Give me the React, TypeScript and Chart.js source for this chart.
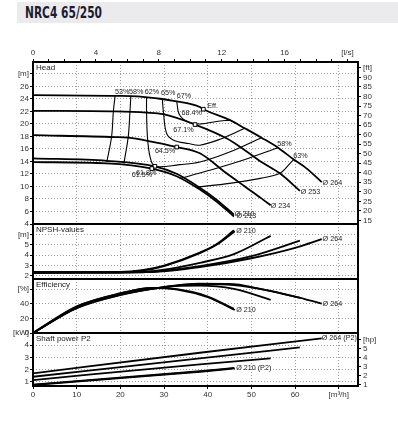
import React, { useEffect, useRef } from "react";
import { Chart, registerables } from "chart.js";
Chart.register(...registerables);

type P = [number, number];
type Lbl = { x: number; y: number; t: string; align?: CanvasTextAlign };

const FONT = "'Liberation Sans', Arial, sans-serif";
const GRID = "#9c9c9c";

// flow axis (m3/h) and l/s
const FLOW_MAX = 74.4;
const LS_PER_M3H = 1 / 3.6;

// Head curves (x: m3/h, y: m)
const head264: P[] = [[0, 24.6], [18.8, 24.5], [24, 24.4], [32.9, 23.6], [38.2, 22.7], [39.0, 22.35], [45.1, 20.6], [48.5, 19.3], [52.3, 17.8], [56.1, 16.2], [59.7, 14.3], [62.6, 12.9], [66.1, 10.7]];
const head253: P[] = [[0, 22.1], [18.8, 22.0], [26.0, 21.8], [29.8, 21.55], [37.1, 19.9], [44.3, 17.7], [48.5, 15.8], [52.3, 13.9], [56.5, 12.1], [61.1, 9.3]];
const head234: P[] = [[0, 18.2], [18.8, 17.9], [21.7, 17.8], [32.9, 16.3], [38.2, 15.3], [44.3, 12.1], [48.5, 10.0], [52.3, 8.1], [54.4, 7.0]];
const head213: P[] = [[0, 14.5], [16.9, 14.1], [27.9, 13.23], [33, 12.0], [38.2, 9.8], [42, 7.9], [46, 5.5]];
const head210: P[] = [[0, 13.9], [16.9, 13.7], [27.2, 12.86], [33, 11.6], [38.2, 9.5], [42, 7.6], [46, 5.2]];

// iso-efficiency lines
const iso53: P[] = [[18.8, 24.48], [18.4, 22.03], [18.0, 18.03], [16.9, 13.92]];
const iso58: P[] = [[22.4, 24.43], [22.2, 22.03], [21.8, 17.92], [20.8, 13.66]];
const iso62: P[] = [[26.0, 24.32], [26.0, 21.82], [26.2, 17.92], [26.8, 14.72], [27.9, 13.23], [33.6, 13.5], [38.2, 13.9], [45, 15.5], [52.3, 17.8]];
const iso65: P[] = [[29.6, 24.06], [29.9, 21.55], [30.6, 18.46], [32.2, 17.4], [35.6, 16.86], [38.2, 16.6], [43, 17.6], [48.5, 19.3]];
const iso67: P[] = [[32.9, 23.6], [33.5, 21.5], [35.5, 20.3], [38.5, 20.0], [42, 20.4], [45.1, 20.6]];
const isoR58: P[] = [[33.6, 11.26], [40, 12.5], [48, 14.2], [56.1, 16.2]];
const isoR63: P[] = [[37.5, 9.9], [45, 10.5], [52, 11.3], [56.5, 12.1], [58.8, 13.66], [59.7, 14.3]];

const bepPoints: P[] = [[39.0, 22.35], [37.1, 19.9], [32.9, 16.3], [27.9, 13.23], [27.2, 12.86]];

const headLabels: Lbl[] = [
  { x: 18.8, y: 25.1, t: "53%" }, { x: 22.0, y: 25.1, t: "58%" }, { x: 25.6, y: 25.1, t: "62%" },
  { x: 29.3, y: 25.0, t: "65%" }, { x: 32.9, y: 24.4, t: "67%" }, { x: 39.9, y: 22.9, t: "Eff." },
  { x: 34.0, y: 21.7, t: "68.4%" }, { x: 32.1, y: 19.1, t: "67.1%" }, { x: 27.9, y: 15.6, t: "64.5%" },
  { x: 23.6, y: 12.2, t: "61.8%" }, { x: 22.6, y: 11.8, t: "61.5%" },
  { x: 55.9, y: 16.75, t: "58%" }, { x: 59.6, y: 14.9, t: "63%" },
  { x: 66.3, y: 10.56, t: "Ø 264" }, { x: 61.3, y: 9.1, t: "Ø 253" }, { x: 54.4, y: 6.9, t: "Ø 234" },
  { x: 46.2, y: 5.55, t: "Ø 210" }, { x: 46.6, y: 5.3, t: "Ø 213" },
];

// NPSH curves
const npsh264: P[] = [[0, 2.3], [28, 2.4], [38.2, 2.85], [50, 3.7], [60, 4.7], [66.1, 5.54]];
const npsh253: P[] = [[0, 2.3], [25, 2.35], [38.2, 2.95], [50, 3.9], [61.1, 5.4]];
const npsh234: P[] = [[0, 2.35], [22, 2.35], [30, 2.6], [38.2, 3.26], [46, 4.1], [54.4, 5.86]];
const npsh213: P[] = [[0, 2.38], [20, 2.38], [25, 2.55], [30, 3.0], [38.2, 4.25], [42, 5.05], [46, 6.4]];
const npsh210: P[] = [[0, 2.35], [20, 2.35], [25, 2.5], [30, 2.95], [38.2, 4.2], [42, 5.0], [46.2, 6.3]];
const npshLabels: Lbl[] = [{ x: 46.5, y: 6.36, t: "Ø 210" }, { x: 66.3, y: 5.54, t: "Ø 264" }];

// Efficiency curves
const eta264: P[] = [[0, 0], [10, 34], [20, 52], [30, 63], [38, 67.6], [46, 67], [50, 63], [60, 50], [66.1, 40.4]];
const eta253: P[] = [[0, 0], [10, 34.5], [20, 52.5], [30, 63], [38, 67], [46, 65.5], [54, 58], [61.1, 48]];
const eta234: P[] = [[0, 0], [10, 35], [20, 53], [30, 63], [38, 65], [46, 60.5], [54.4, 45.5]];
const eta213: P[] = [[0, 0], [10, 36], [20, 54], [27, 61.8], [33, 60], [40, 50], [46, 33]];
const eta210: P[] = [[0, 0], [10, 36.5], [20, 54.5], [27, 61.5], [33, 59.5], [40, 49], [46.2, 31.5]];
const etaLabels: Lbl[] = [{ x: 66.3, y: 40, t: "Ø 264" }, { x: 46.5, y: 31.7, t: "Ø 210" }];

// Shaft power P2 (kW)
const pow264: P[] = [[0, 1.69], [38.2, 3.38], [66.1, 4.56]];
const pow253: P[] = [[0, 1.41], [38.2, 2.92], [61.1, 3.82]];
const pow234: P[] = [[0, 1.14], [38.2, 2.43], [54.4, 2.92]];
const pow213: P[] = [[0, 0.77], [38.2, 1.86], [46, 2.13]];
const pow210: P[] = [[0, 0.73], [38.2, 1.82], [46.2, 2.1]];
const powLabels: Lbl[] = [{ x: 66.1, y: 4.56, t: "Ø 264 (P2)" }, { x: 46.5, y: 2.1, t: "Ø 210 (P2)" }];

const unitCb = (unitAt: number, unit: string, hide: number[] = [], every = 0) => (v: any) => {
  const n = Number(v);
  if (Math.abs(n - unitAt) < 1e-6) return unit;
  if (hide.some((h) => Math.abs(h - n) < 1e-6)) return "";
  if (every && Math.abs(n / every - Math.round(n / every)) > 1e-6) return "";
  return String(Math.round(n * 100) / 100);
};

const line = (pts: P[], w = 1.8, mono = true) => ({
  data: pts.map(([x, y]) => ({ x, y })),
  borderColor: "#000",
  borderWidth: w,
  pointRadius: 0,
  fill: false,
  cubicInterpolationMode: mono ? "monotone" : "default",
  tension: mono ? 0 : 0.35,
  yAxisID: "y",
});

const markers = (pts: P[]) => ({
  data: pts.map(([x, y]) => ({ x, y })),
  showLine: false,
  pointStyle: "rect",
  pointRadius: 2.6,
  pointBackgroundColor: "#fff",
  pointBorderColor: "#000",
  pointBorderWidth: 1,
  yAxisID: "y",
});

const framePlugin = (title: string, labels: Lbl[]) => ({
  id: "frameText",
  afterDatasetsDraw(chart: any) {
    const { ctx, chartArea: a, scales } = chart;
    ctx.save();
    ctx.lineWidth = 2;
    ctx.strokeStyle = "#000";
    ctx.strokeRect(a.left, a.top, a.right - a.left, a.bottom - a.top);
    ctx.font = `8px ${FONT}`;
    ctx.fillStyle = "#222";
    ctx.textBaseline = "top";
    ctx.textAlign = "left";
    ctx.fillText(title, a.left + 3, a.top + 2);
    ctx.font = `7.2px ${FONT}`;
    ctx.textBaseline = "middle";
    for (const l of labels) {
      ctx.textAlign = l.align ?? "left";
      ctx.fillText(l.t, scales.x.getPixelForValue(l.x), scales.y.getPixelForValue(l.y));
    }
    ctx.restore();
  },
});

const noRot = { maxRotation: 0, minRotation: 0 };

const xGridScale = (h: number, showTicks = false) => ({
  type: "linear",
  position: "bottom",
  min: 0,
  max: FLOW_MAX,
  ticks: {
    ...noRot,
    display: showTicks,
    stepSize: 10,
    autoSkip: false,
    includeBounds: false,
    padding: 1,
    callback: unitCb(70, "[m³/h]"),
  },
  grid: { color: GRID, drawTicks: showTicks, tickLength: 3, tickColor: "#000", tickBorderDash: [] },
  border: { display: false, dash: [1, 2] },
  afterFit: (s: any) => { s.height = h; },
});

const yLeft = (min: number, max: number, step: number, unitAt: number, unit: string, hide: number[] = []) => ({
  type: "linear",
  position: "left",
  min,
  max,
  ticks: { stepSize: step, autoSkip: false, includeBounds: false, padding: 1, callback: unitCb(unitAt, unit, hide) },
  grid: { color: GRID, drawTicks: true, tickLength: 3, tickColor: "#000", tickBorderDash: [] },
  border: { display: false, dash: [1, 2] },
  afterFit: (s: any) => { s.width = 33; },
});

const yRight = (min: number, max: number, step: number, unitAt: number, unit: string) => ({
  type: "linear",
  position: "right",
  min,
  max,
  ticks: { stepSize: step, autoSkip: false, includeBounds: false, padding: 2, callback: unitCb(unitAt, unit) },
  grid: { drawOnChartArea: false, drawTicks: true, tickLength: 3, tickColor: "#000" },
  border: { display: false },
  afterFit: (s: any) => { s.width = 40; },
});

function usePanel(ref: React.RefObject<HTMLCanvasElement | null>, cfg: () => any) {
  useEffect(() => {
    if (!ref.current) return;
    const c = new Chart(ref.current, cfg());
    return () => c.destroy();
  }, []);
}

const basePlugins = { legend: { display: false }, tooltip: { enabled: false } };

export default function App() {
  const r1 = useRef<HTMLCanvasElement>(null);
  const r2 = useRef<HTMLCanvasElement>(null);
  const r3 = useRef<HTMLCanvasElement>(null);
  const r4 = useRef<HTMLCanvasElement>(null);

  Chart.defaults.font.family = FONT;
  Chart.defaults.font.size = 8;
  Chart.defaults.color = "#333";

  usePanel(r1, () => ({
    type: "line",
    data: {
      datasets: [
        markers(bepPoints),
        line(head264), line(head253), line(head234), line(head213), line(head210),
        line(iso53, 1.1, false), line(iso58, 1.1, false), line(iso62, 1.1, false), line(iso65, 1.1, false),
        line(iso67, 1.1, false), line(isoR58, 1.1, false), line(isoR63, 1.1, false),
      ],
    },
    options: {
      animation: false, responsive: false, maintainAspectRatio: false,
      layout: { padding: 0 },
      plugins: basePlugins,
      scales: {
        x: xGridScale(10),
        xt: {
          type: "linear", position: "top", min: 0, max: FLOW_MAX * LS_PER_M3H,
          ticks: { ...noRot, stepSize: 1, autoSkip: false, includeBounds: false, padding: 1, callback: unitCb(20, "[l/s]", [], 4) },
          grid: { drawOnChartArea: false, drawTicks: true, tickLength: 3, tickColor: "#000" },
          border: { display: false },
          afterFit: (s: any) => { s.height = 22; },
        },
        y: yLeft(4, 29.9, 2, 28, "[m]"),
        yft: yRight(4 * 3.2808, 29.9 * 3.2808, 5, 95, "[ft]"),
      },
    },
    plugins: [framePlugin("Head", headLabels)],
  }));

  usePanel(r2, () => ({
    type: "line",
    data: { datasets: [line(npsh264), line(npsh253), line(npsh234), line(npsh213), line(npsh210)] },
    options: {
      animation: false, responsive: false, maintainAspectRatio: false,
      layout: { padding: { top: 10, right: 40, left: 0, bottom: 0 } },
      plugins: basePlugins,
      scales: { x: xGridScale(10), y: yLeft(1.7, 7, 1, 6, "[m]", [7]) },
    },
    plugins: [framePlugin("NPSH-values", npshLabels)],
  }));

  usePanel(r3, () => ({
    type: "line",
    data: { datasets: [line(eta264), line(eta253), line(eta234), line(eta213), line(eta210)] },
    options: {
      animation: false, responsive: false, maintainAspectRatio: false,
      layout: { padding: { top: 10, right: 40, left: 0, bottom: 0 } },
      plugins: basePlugins,
      scales: { x: xGridScale(10), y: yLeft(0, 74, 20, 60, "[%]") },
    },
    plugins: [framePlugin("Efficiency", etaLabels)],
  }));

  usePanel(r4, () => ({
    type: "line",
    data: { datasets: [line(pow264), line(pow253), line(pow234), line(pow213), line(pow210)] },
    options: {
      animation: false, responsive: false, maintainAspectRatio: false,
      layout: { padding: { top: 10, left: 0, right: 0, bottom: 0 } },
      plugins: basePlugins,
      scales: {
        x: xGridScale(16, true),
        y: yLeft(0.65, 5, 1, 5, "[kW]"),
        yhp: yRight(0.65 / 0.7457, 5 / 0.7457, 1, 6, "[hp]"),
      },
    },
    plugins: [framePlugin("Shaft power P2", powLabels)],
  }));

  const cv = (top: number, h: number): React.CSSProperties => ({
    position: "absolute", left: 0, top, width: 398, height: h,
  });

  return (
    <div style={{ position: "absolute", left: 0, top: 0, width: 398, height: 423, background: "#fff", overflow: "hidden" }}>
      <div style={{ position: "absolute", left: 17, top: 2, width: 381, height: 21, background: "#ebebee" }}>
        <span style={{
          position: "absolute", left: 8, top: 0, lineHeight: "21px", fontFamily: "'DejaVu Sans Condensed', 'DejaVu Sans', sans-serif",
          fontWeight: "bold", fontSize: 16, color: "#1c1c30", transform: "scaleX(0.74)", transformOrigin: "left center", whiteSpace: "nowrap",
        }}>NRC4 65/250</span>
      </div>
      <canvas ref={r1} width={398} height={194} style={cv(40, 194)} />
      <canvas ref={r2} width={398} height={75} style={cv(214, 75)} />
      <canvas ref={r3} width={398} height={74} style={cv(269, 74)} />
      <canvas ref={r4} width={398} height={79} style={cv(323, 79)} />
    </div>
  );
}
